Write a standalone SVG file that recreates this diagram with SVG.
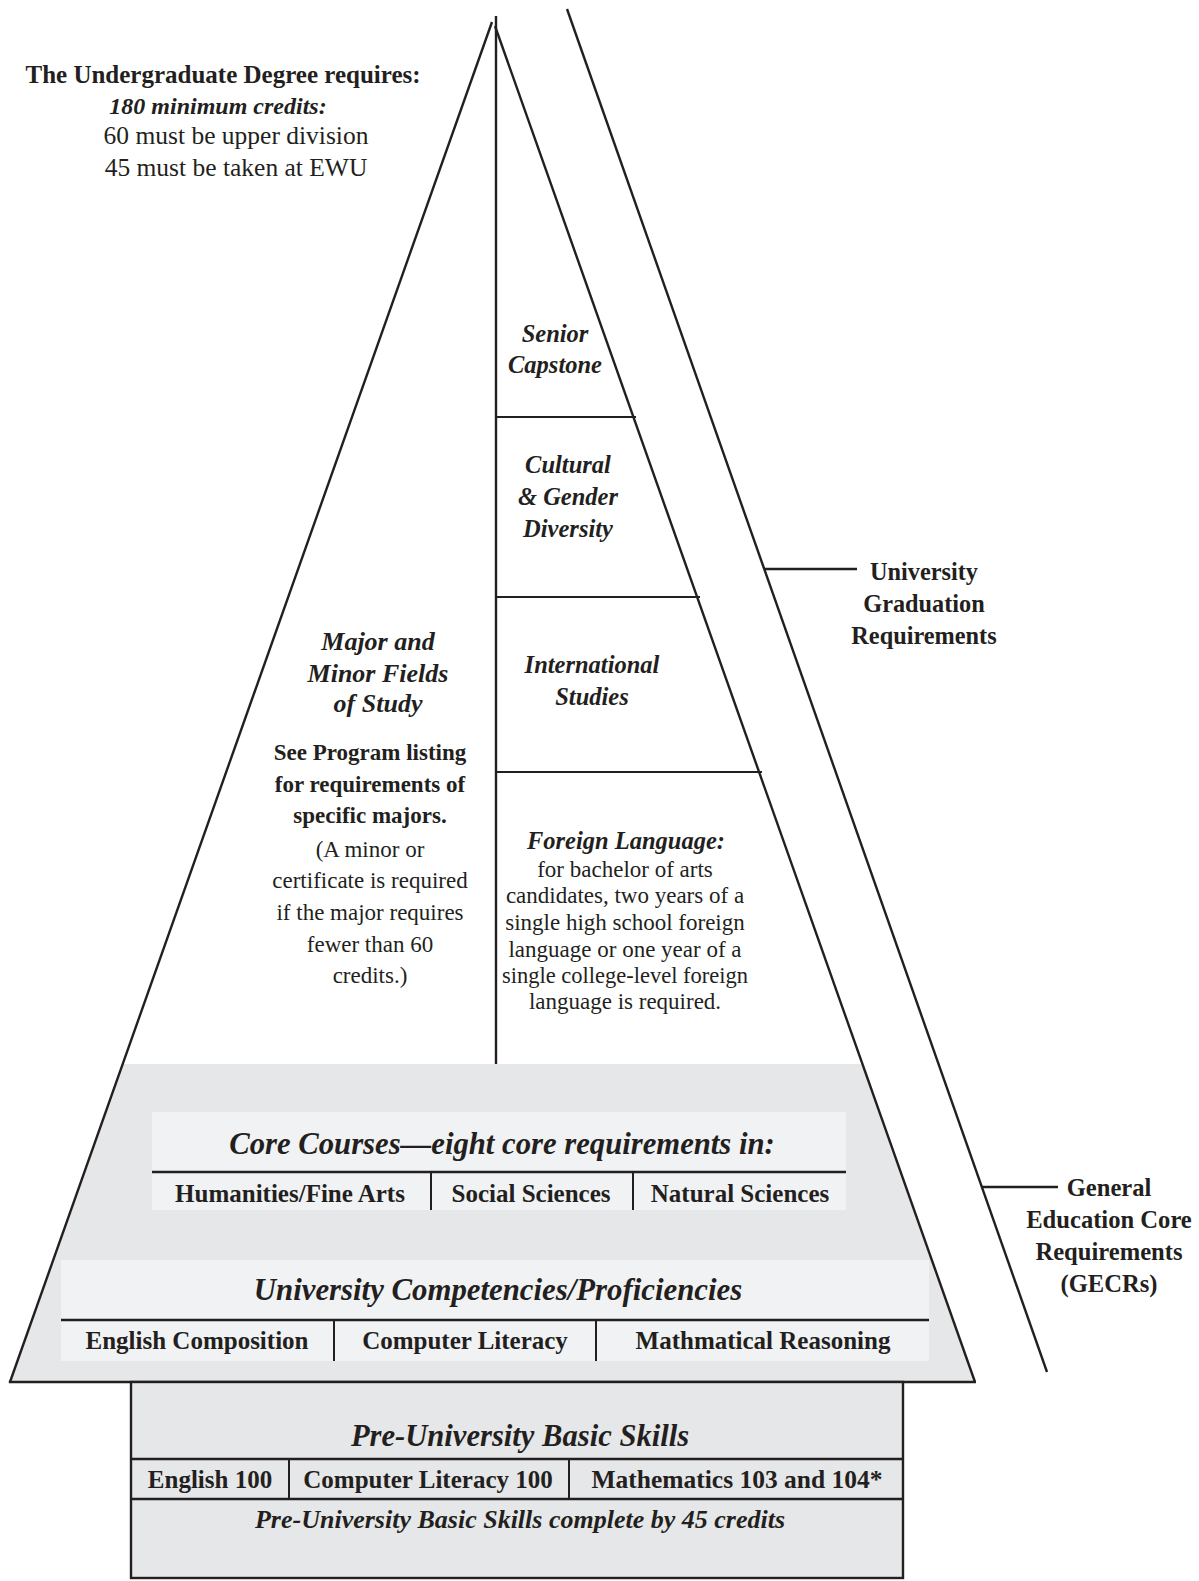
<svg xmlns="http://www.w3.org/2000/svg" width="1199" height="1581" viewBox="0 0 1199 1581">
<style>
text{font-family:"Liberation Serif","Times New Roman",serif;fill:#231f20;text-anchor:middle}
.b{font-weight:bold}
.bi{font-weight:bold;font-style:italic}
.r{font-weight:normal}
.ln{stroke:#231f20;fill:none;stroke-width:2.4}
.thin{stroke:#231f20;fill:none;stroke-width:2}
.grey{fill:#e6e7e8}
.band{fill:#f1f2f3}
</style>
<rect width="1199" height="1581" fill="#ffffff"/>

<g id="gecr-area">
<polygon class="grey" points="123,1064 862,1064 975,1382 10,1382"/>
</g>

<g id="connectors">
<line class="ln" x1="492" y1="22" x2="10" y2="1382"/>
<line class="ln" x1="495" y1="26" x2="975" y2="1382"/>
<line class="ln" x1="8.8" y1="1382" x2="976" y2="1382"/>
<line class="ln" x1="496" y1="16" x2="496" y2="1064"/>
<line class="ln" x1="567" y1="9" x2="1047" y2="1372"/>
<line class="ln" x1="764" y1="569" x2="857" y2="569"/>
<line class="ln" x1="982" y1="1187" x2="1058" y2="1187"/>
<line class="thin" x1="496" y1="417" x2="636" y2="417"/>
<line class="thin" x1="496" y1="597" x2="700" y2="597"/>
<line class="thin" x1="496" y1="772" x2="762" y2="772"/>
</g>

<g id="degree-summary">
<text class="b" x="223" y="83" font-size="25">The Undergraduate Degree requires:</text>
<text class="bi" x="218" y="114" font-size="24">180 minimum credits:</text>
<text class="r" x="236" y="144" font-size="25.5">60 must be upper division</text>
<text class="r" x="236" y="176" font-size="25.5">45 must be taken at EWU</text>
</g>

<g id="senior-capstone">
<text class="bi" x="555" y="342" font-size="24.5">Senior</text>
<text class="bi" x="555" y="373" font-size="24.5">Capstone</text>
</g>

<g id="cultural-diversity">
<text class="bi" x="568" y="473" font-size="24.5">Cultural</text>
<text class="bi" x="568" y="505" font-size="24.5">&amp; Gender</text>
<text class="bi" x="568" y="537" font-size="24.5">Diversity</text>
</g>

<g id="international-studies">
<text class="bi" x="592" y="673" font-size="24.5">International</text>
<text class="bi" x="592" y="705" font-size="24.5">Studies</text>
</g>

<g id="foreign-language">
<text class="bi" x="626" y="849" font-size="24.5">Foreign Language:</text>
<text class="r" x="625" y="877" font-size="23">for bachelor of arts</text>
<text class="r" x="625" y="903" font-size="23">candidates, two years of a</text>
<text class="r" x="625" y="930" font-size="23">single high school foreign</text>
<text class="r" x="625" y="957" font-size="23">language or one year of a</text>
<text class="r" x="625" y="983" font-size="22.5">single college-level foreign</text>
<text class="r" x="625" y="1009" font-size="23">language is required.</text>
</g>

<g id="major-minor">
<text class="bi" x="378" y="650" font-size="26">Major and</text>
<text class="bi" x="378" y="682" font-size="26">Minor Fields</text>
<text class="bi" x="378" y="712" font-size="26">of Study</text>
<text class="b" x="370" y="760" font-size="23">See Program listing</text>
<text class="b" x="370" y="792" font-size="23">for requirements of</text>
<text class="b" x="370" y="823" font-size="23">specific majors.</text>
<text class="r" x="370" y="857" font-size="23">(A minor or</text>
<text class="r" x="370" y="888" font-size="23">certificate is required</text>
<text class="r" x="370" y="920" font-size="23">if the major requires</text>
<text class="r" x="370" y="952" font-size="23">fewer than 60</text>
<text class="r" x="370" y="983" font-size="23">credits.)</text>
</g>

<g id="university-graduation-label">
<text class="b" x="924" y="580" font-size="24.3">University</text>
<text class="b" x="924" y="612" font-size="24.3">Graduation</text>
<text class="b" x="924" y="644" font-size="24.3">Requirements</text>
</g>

<g id="gecr-label">
<text class="b" x="1109" y="1196" font-size="24.6">General</text>
<text class="b" x="1109" y="1228" font-size="24.6">Education Core</text>
<text class="b" x="1109" y="1260" font-size="24.6">Requirements</text>
<text class="b" x="1109" y="1292" font-size="24.6">(GECRs)</text>
</g>

<g id="core-courses">
<rect class="band" x="152" y="1112" width="694" height="98"/>
<line class="ln" x1="152" y1="1172" x2="846" y2="1172"/>
<line class="thin" x1="431" y1="1172" x2="431" y2="1210"/>
<line class="thin" x1="633" y1="1172" x2="633" y2="1210"/>
<text class="bi" x="502" y="1154" font-size="30.7">Core Courses—eight core requirements in:</text>
<text class="b" x="290" y="1202" font-size="25">Humanities/Fine Arts</text>
<text class="b" x="531" y="1202" font-size="25">Social Sciences</text>
<text class="b" x="740" y="1202" font-size="25">Natural Sciences</text>
</g>

<g id="university-competencies">
<rect class="band" x="61" y="1260" width="868" height="101"/>
<line class="ln" x1="61" y1="1320" x2="929" y2="1320"/>
<line class="thin" x1="334" y1="1320" x2="334" y2="1361"/>
<line class="thin" x1="596" y1="1320" x2="596" y2="1361"/>
<text class="bi" x="498" y="1300" font-size="30.8">University Competencies/Proficiencies</text>
<text class="b" x="197" y="1349" font-size="25">English Composition</text>
<text class="b" x="465" y="1349" font-size="25">Computer Literacy</text>
<text class="b" x="763" y="1349" font-size="25">Mathmatical Reasoning</text>
</g>

<g id="pre-university">
<rect class="grey" x="131" y="1382" width="772" height="196" stroke="#231f20" stroke-width="2.4"/>
<line class="ln" x1="131" y1="1459" x2="903" y2="1459"/>
<line class="ln" x1="131" y1="1499" x2="903" y2="1499"/>
<line class="thin" x1="289" y1="1459" x2="289" y2="1499"/>
<line class="thin" x1="569" y1="1459" x2="569" y2="1499"/>
<text class="bi" x="520" y="1446" font-size="30.6">Pre-University Basic Skills</text>
<text class="b" x="210" y="1488" font-size="25">English 100</text>
<text class="b" x="428" y="1488" font-size="25">Computer Literacy 100</text>
<text class="b" x="737" y="1488" font-size="25.5">Mathematics 103 and 104*</text>
<text class="bi" x="520" y="1528" font-size="26">Pre-University Basic Skills complete by 45 credits</text>
</g>
</svg>
